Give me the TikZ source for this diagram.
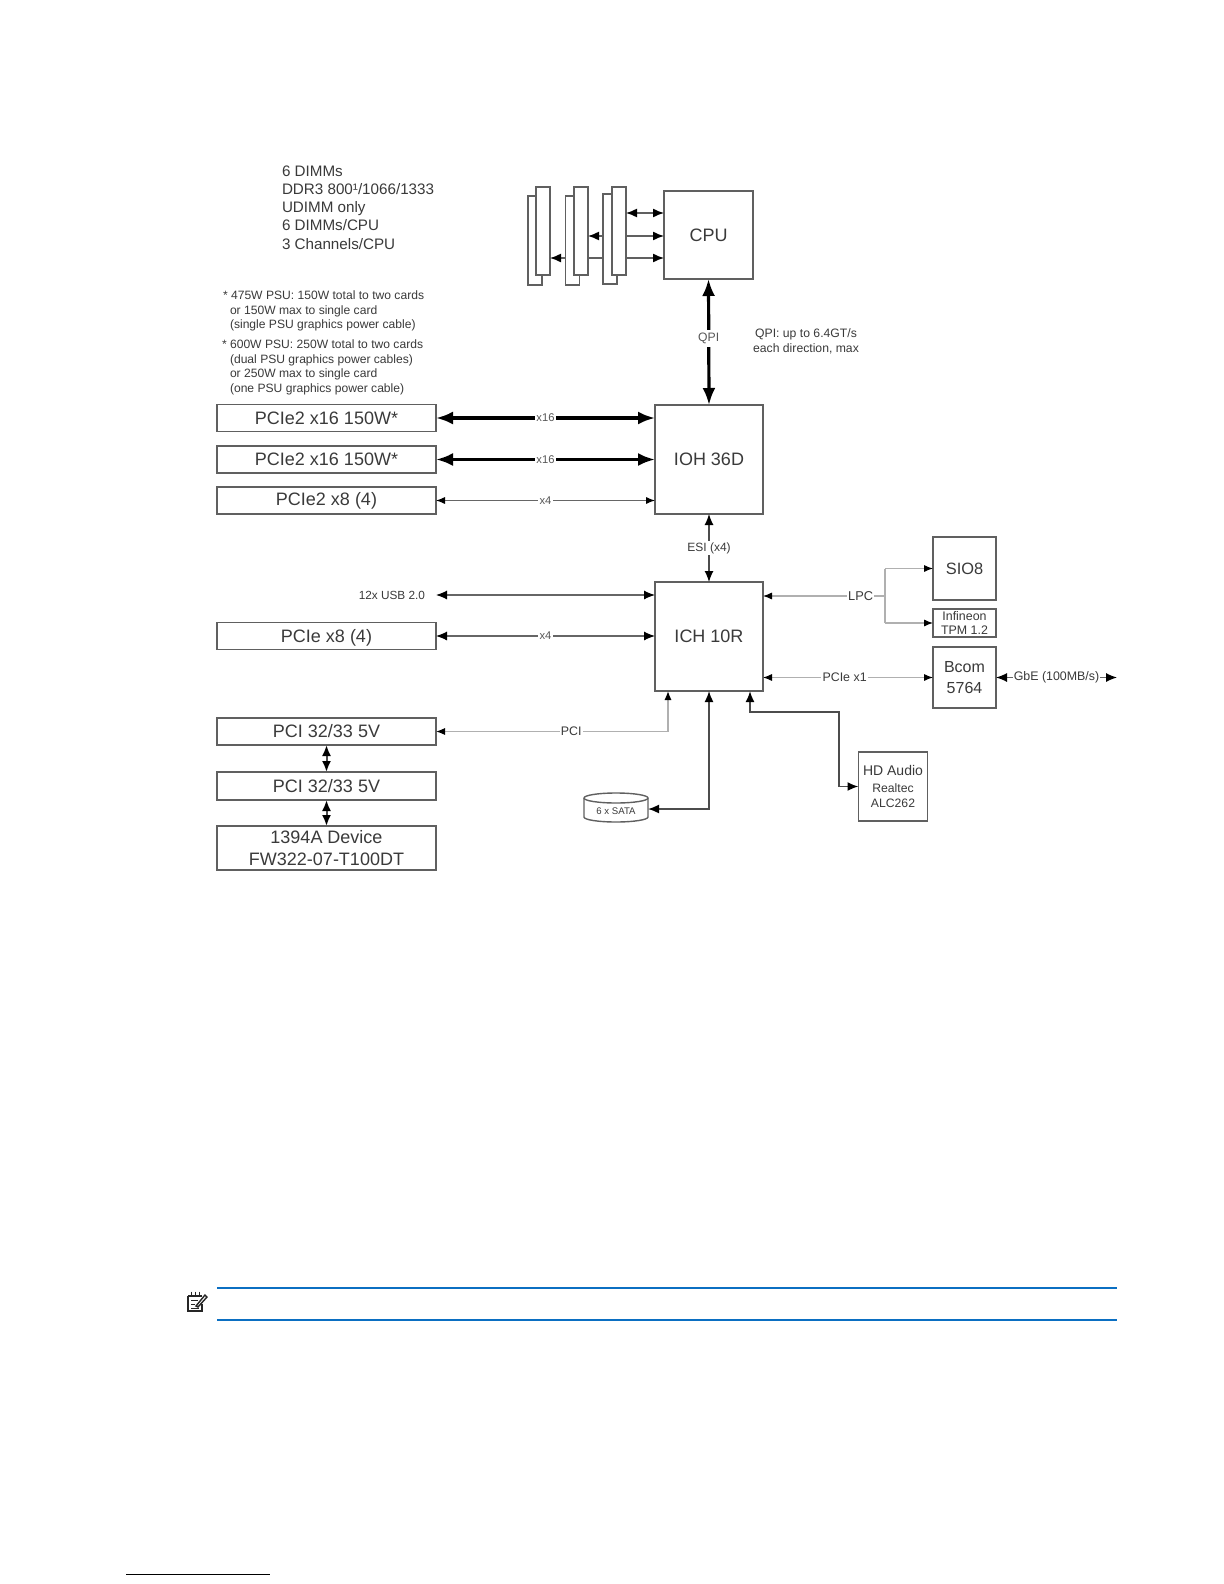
\documentclass[tikz,border=0pt]{standalone}
\usepackage{fontspec}
\setmainfont{Liberation Sans}
\usetikzlibrary{arrows.meta,calc}
\definecolor{ink}{HTML}{3A3A3A}
\definecolor{edgeg}{HTML}{606060}
\definecolor{lightg}{HTML}{B0B0B0}
\definecolor{noteblue}{HTML}{0B6FC2}
\tikzset{
  x=0.5pt,y=-0.5pt,
  every node/.style={text=ink,inner sep=0pt,outer sep=0pt},
  wh/.style n args={2}{minimum width=#1*0.5pt,minimum height=#2*0.5pt},
  box/.style={draw=edgeg,line width=0.7pt,fill=white,align=center,font=\fontsize{9}{11}\selectfont},
  slotbox/.style={draw=edgeg,line width=0.7pt,fill=white},
  lab/.style={fill=white,inner xsep=0.6pt,inner ysep=0.5pt,text=ink!85,font=\fontsize{5.6}{7}\selectfont},
  notes/.style={align=left,anchor=north west,font=\fontsize{6.05}{7.25}\selectfont},
  bighead/.tip={Latex[length=8.5pt,width=6.5pt,color=black]},
  midhead/.tip={Latex[length=5.5pt,width=4.5pt,color=black]},
  smallhead/.tip={Latex[length=4.5pt,width=3.6pt,color=black]},
  thickbus/.style={bighead-bighead,draw=black,line width=1.6pt},
  midbus/.style={midhead-midhead,draw=black!70,line width=0.8pt},
  thinbus/.style={smallhead-smallhead,draw=black!60,line width=0.55pt},
  palebus/.style={smallhead-smallhead,draw=lightg,line width=0.6pt},
  membus/.style={-midhead,draw=edgeg,line width=0.7pt},
}
\begin{document}
\begin{tikzpicture}
\useasboundingbox[fill=white] (0,0) rectangle (1224,1584);

% memory slots
\node[slotbox,wh={14}{89}] (b1) at (535,240.5) {};
\node[slotbox,wh={14}{88}] (f1) at (543,231) {};
\node[slotbox,wh={14}{89}] (b2) at (572.5,240.5) {};
\node[slotbox,wh={14}{88}] (f2) at (581,231) {};
\node[slotbox,wh={14}{90}] (b3) at (610,239) {};
\node[slotbox,wh={14}{88}] (f3) at (619,231) {};

% main blocks
\node[box,wh={89}{88}] (cpu) at (708.5,235) {CPU};
\node[box,wh={108}{109}] (ioh) at (709,459.5) {IOH 36D};
\node[box,wh={108}{109}] (ich) at (709,636.5) {ICH 10R};

\node[box,wh={219}{26.5}] (p1) at (326.5,418) {PCIe2 x16 150W*};
\node[box,wh={219}{27}] (p2) at (326.5,459.5) {PCIe2 x16 150W*};
\node[box,wh={219}{27}] (p3) at (326.5,500.5) {PCIe2 x8 (4)};
\node[box,wh={219}{27.5}] (p4) at (326.5,636) {\raisebox{-3.4pt}[0pt][0pt]{PCIe x8 (4)}};
\node[box,wh={219}{27}] (pci1) at (326.5,731.5) {PCI 32/33 5V};
\node[box,wh={219}{28}] (pci2) at (326.5,786) {PCI 32/33 5V};
\node[box,wh={219}{44},font=\fontsize{9}{11}\selectfont] (fw) at (326.5,848) {1394A Device\\FW322-07-T100DT};

\node[box,wh={63}{63},font=\fontsize{8.2}{10}\selectfont] (sio) at (964.5,568.5) {SIO8};
\node[box,wh={63}{28},font=\fontsize{6.2}{7.2}\selectfont] (tpm) at (964.5,623) {Infineon\\TPM 1.2};
\node[box,wh={63}{61},font=\fontsize{8}{10.2}\selectfont] (bcom) at (964.5,677.5) {Bcom\\5764};
\node[box,wh={69}{69},font=\fontsize{6.1}{7.4}\selectfont] (audio) at (893,786.5) {{\fontsize{7}{9}\selectfont HD Audio}\\[1pt]Realtec\\ALC262};

% SATA cylinder
\node[wh={64}{29}] (sata) at (616,807.5) {};
\node[font=\fontsize{4.8}{6}\selectfont] (satat) at (616,811) {6 x SATA};
\draw[edgeg,line width=0.7pt] (sata.north west) ++(0,5)
  arc[start angle=180,end angle=0,x radius=32*0.5pt,y radius=5*0.5pt]
  -- ++(0,19) arc[start angle=0,end angle=-180,x radius=32*0.5pt,y radius=5*0.5pt] -- cycle;
\draw[edgeg,line width=0.7pt] (sata.north west) ++(0,5)
  arc[start angle=180,end angle=360,x radius=32*0.5pt,y radius=5*0.5pt];

% free ends and bends
\coordinate (usbend) at (436,595);
\coordinate (gbeend) at (1117,677.5);
\coordinate (cpuy1) at (664,213);
\coordinate (cpuy2) at (664,236);
\coordinate (cpuy3) at (664,258);
\coordinate (lpcj) at (885,596);

% memory connectors
\draw[membus,midhead-midhead] (f3.east |- cpuy1) -- (cpuy1);
\draw[membus] (f3.east |- cpuy2) -- (cpuy2);
\draw[membus] (f3.east |- cpuy3) -- (cpuy3);
\draw[membus] (b3.west |- cpuy2) -- (f2.east |- cpuy2);
\draw[edgeg,line width=0.7pt] (b3.west |- cpuy3) -- (f2.east |- cpuy3);
\draw[membus] (b2.west |- cpuy3) -- (f1.east |- cpuy3);

% QPI
\draw[thickbus] (cpu.south) -- node[lab,font=\fontsize{6.1}{7}\selectfont,pos=0.47,inner ysep=1.5pt] (qpil) {QPI} (ioh.north);
\node[font=\fontsize{6.1}{7.4}\selectfont,align=center] (qpin) at (806,341.5) {QPI: up to 6.4GT/s\\each direction, max};

% PCIe
\draw[thickbus] (p1.east) -- node[lab] (l1) {x16} (p1.east -| ioh.west);
\draw[thickbus] (p2.east) -- node[lab] (l2) {x16} (p2.east -| ioh.west);
\draw[thinbus] (p3.east) -- node[lab] (l3) {x4} (p3.east -| ioh.west);
\draw[midbus,line width=0.6pt] (ioh.south) -- node[lab,text=ink,font=\fontsize{6}{7}\selectfont] (esi) {ESI (x4)} (ich.north);
\draw[thinbus,midhead-midhead] (usbend) -- (usbend -| ich.west);
\node[anchor=east,font=\fontsize{5.9}{7}\selectfont] (usb) at (425,595) {12x USB 2.0};
\draw[thinbus,midhead-midhead] (p4.east) -- node[lab] (l4) {x4} (p4.east -| ich.west);

% LPC
\draw[draw=lightg,line width=0.6pt] (lpcj |- sio.west) -- (lpcj |- tpm.west);
\draw[draw=lightg,line width=0.6pt,smallhead-] (ich.east |- lpcj) -- node[lab,pos=0.8,text=ink,font=\fontsize{6.4}{7}\selectfont] (lpc) {LPC} (lpcj);
\draw[draw=lightg,line width=0.6pt,-smallhead] (lpcj |- sio.west) -- (sio.west);
\draw[draw=lightg,line width=0.6pt,-smallhead] (lpcj |- tpm.west) -- (tpm.west);
\draw[palebus] (bcom.west -| ich.east) -- node[lab,pos=0.48,text=ink,font=\fontsize{6.2}{7}\selectfont] (pciex) {PCIe x1} (bcom.west);
\draw[thinbus,midhead-midhead] (bcom.east) -- node[lab,pos=0.5,text=ink,font=\fontsize{6.2}{7}\selectfont] (gbe) {GbE (100MB/s)} (gbeend);

% bottom connectors
\coordinate (pcix) at (668,691);
\coordinate (audx) at (750,691);
\draw[palebus,line width=0.7pt] (pci1.east) -- node[lab,pos=0.583,text=ink,font=\fontsize{6.2}{7}\selectfont] (pcil) {PCI} (pci1.east -| pcix) -- (pcix);
\draw[midbus,line width=0.8pt] (sata.east |- 0,809) -- (ich.south |- 0,809) -- (ich.south);
\draw[midbus,line width=0.9pt] (audx) -- (audx |- 0,712) -- (839,712) -- (839,786.5) -- (audio.west);
\draw[midbus,line width=1pt] (pci1.south) -- (pci2.north);
\draw[midbus,line width=1pt] (pci2.south) -- (fw.north);

% texts
\node[align=left,anchor=north west,font=\fontsize{7.6}{9.05}\selectfont] (dimm) at (282,166) {6 DIMMs\\DDR3 800¹/1066/1333\\UDIMM only\\6 DIMMs/CPU\\3 Channels/CPU};
\node[notes] (n475) at (223,291) {* 475W PSU: 150W total to two cards\\\hspace{3.5pt}or 150W max to single card\\\hspace{3.5pt}(single PSU graphics power cable)};
\node[notes] (n600) at (222,340) {* 600W PSU: 250W total to two cards\\\hspace{4pt}(dual PSU graphics power cables)\\\hspace{4pt}or 250W max to single card\\\hspace{4pt}(one PSU graphics power cable)};

% note rules and icon
\coordinate (ruleL) at (217,1288);
\coordinate (ruleR) at (1117,1288);
\draw[noteblue,line width=0.6pt] (ruleL) -- (ruleR);
\draw[noteblue,line width=0.9pt] ($(ruleL)+(0,32)$) -- ($(ruleR)+(0,32)$);
\draw[black!85,line width=0.7pt] (188,1296) -- (202,1296) (188,1296) -- (188,1311) -- (202,1311) -- (202,1304);
\draw[black!85,line width=0.5pt] (191,1291.5) -- (191,1296) (195,1291.5) -- (195,1296) (199,1291.5) -- (199,1296);
\draw[black!85,line width=0.5pt] (191,1300) -- (198,1300) (191,1304) -- (195,1304) (191,1308) -- (199,1308);
\draw[black!85,line width=0.7pt] (196,1306) -- (205,1295) -- (207,1297) -- (198,1307) -- cycle;
% footnote rule
\draw[black,line width=0.5pt] (126,1574) -- (270,1574);
\end{tikzpicture}
\end{document}
